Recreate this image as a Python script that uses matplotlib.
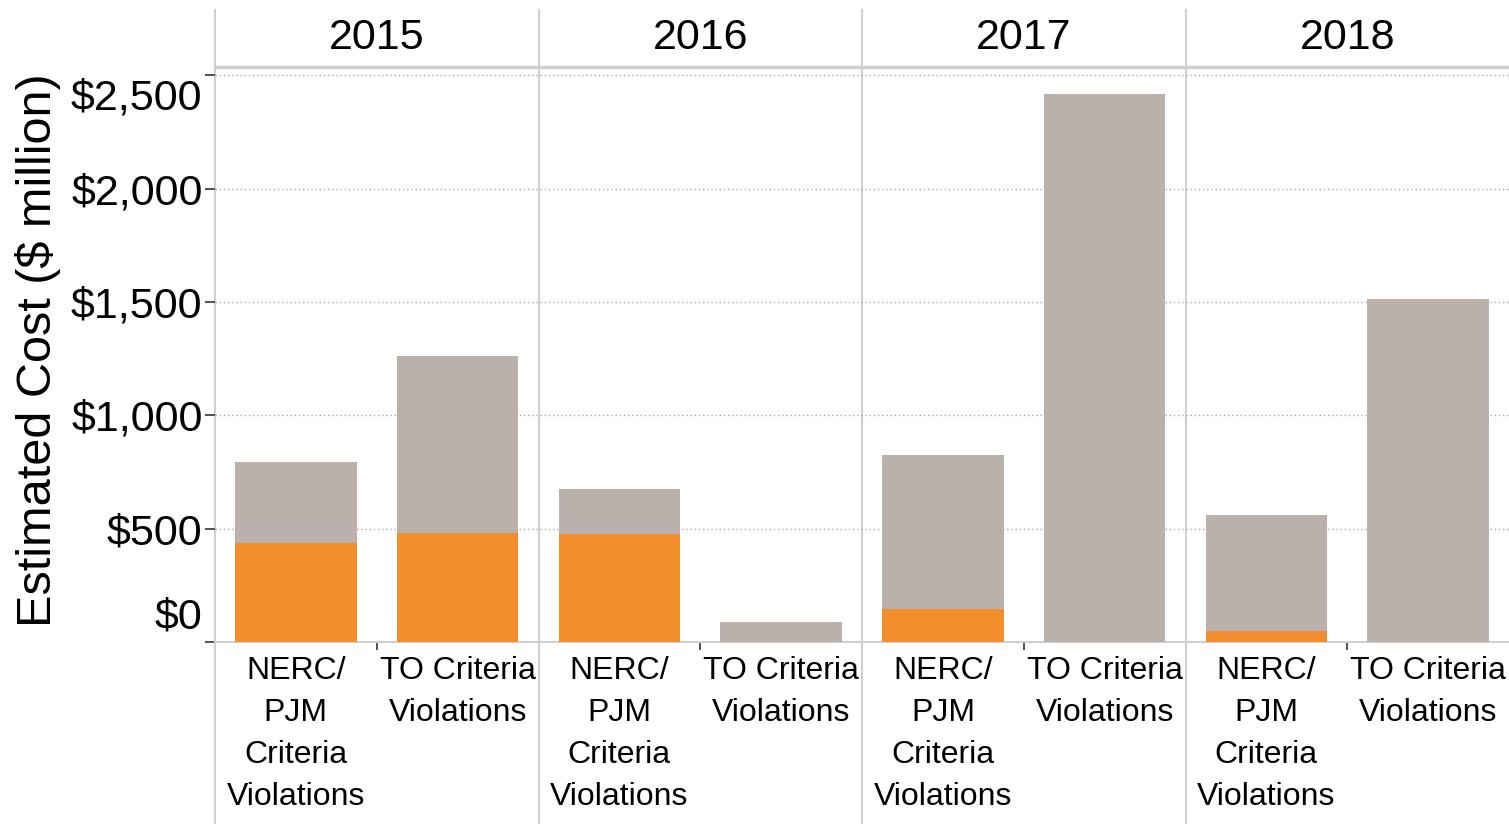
import matplotlib
matplotlib.use("Agg")
import matplotlib.pyplot as plt
from matplotlib.transforms import ScaledTranslation, blended_transform_factory
import numpy as np

years = ["2015", "2016", "2017", "2018"]
categories = ["NERC/\nPJM\nCriteria\nViolations", "TO Criteria\nViolations"]
orange_values = [435, 482, 477, 0, 146, 0, 50, 0]
grey_values = [361, 780, 198, 88, 679, 2417, 511, 1512]
y_ticks = [0, 500, 1000, 1500, 2000, 2500]
y_tick_labels = ["$0", "$500", "$1,000", "$1,500", "$2,000", "$2,500"]

ORANGE = "#F28E2B"
GREY = "#BAB0AC"
LINE = "#D0D0D0"
FONT = "Liberation Sans"
plt.rcParams["font.family"] = [FONT, "DejaVu Sans"]

W, H = 1509, 824
fig = plt.figure(figsize=(W / 100, H / 100), dpi=100)
left, right, top, bottom = 215, 1509, 67, 642
ax = fig.add_axes([left / W, 1 - bottom / H, (right - left) / W, (bottom - top) / H])

n = len(years) * len(categories)
x = np.arange(n)
ax.bar(x, orange_values, width=0.75, color=ORANGE, zorder=3)
ax.bar(x, grey_values, width=0.75, bottom=orange_values, color=GREY, zorder=3)

ax.set_xlim(-0.5, n - 0.5)
ax.set_ylim(0, 2537)

# grid
ax.set_yticks(y_ticks)
ax.set_yticklabels(y_tick_labels, fontsize=31)
ax.yaxis.grid(True, linestyle=(0, (1, 2)), color="#A8A8A8", linewidth=1.0, zorder=0)
ax.tick_params(axis="y", length=7, width=1.2, color="#333333", pad=2)

ax.set_xticks(x)
ax.set_xticklabels(categories * len(years), fontsize=23, linespacing=1.52, va="top")
ax.tick_params(axis="x", length=0, pad=10)
ax.set_xticks([0.5 + 2 * i for i in range(len(years))], minor=True)
ax.tick_params(axis="x", which="minor", length=6, width=1.2, color="#333333")

for s in ["top", "right", "left"]:
    ax.spines[s].set_visible(False)
ax.spines["bottom"].set_color(LINE)
ax.spines["bottom"].set_linewidth(1.5)

# shift end tick labels inward
labels = ax.get_yticklabels()
labels[0].set_transform(labels[0].get_transform() + ScaledTranslation(0, 0.29, fig.dpi_scale_trans))
labels[-1].set_transform(labels[-1].get_transform() + ScaledTranslation(0, -0.19, fig.dpi_scale_trans))

# header line
ax.axhline(2537, color=LINE, linewidth=2.5, zorder=4, clip_on=False)

# panel dividers
ext_bottom = -(H - bottom) / (bottom - top)
ext_top = 1 + (top - 10) / (bottom - top)
for i in range(len(years)):
    ax.axvline(-0.5 + 2 * i, ymin=ext_bottom, ymax=ext_top, color=LINE, linewidth=1.5, clip_on=False, zorder=1)

# year headers
tr = blended_transform_factory(ax.transData, fig.transFigure)
for i, yr in enumerate(years):
    ax.text(0.5 + 2 * i, 1 - 38 / H, yr, transform=tr, ha="center", va="center", fontsize=31)

fig.text(38 / W, 1 - 350 / H, "Estimated Cost ($ million)", rotation=90, ha="center", va="center", fontsize=35)

fig.savefig("out.png", dpi=100)
